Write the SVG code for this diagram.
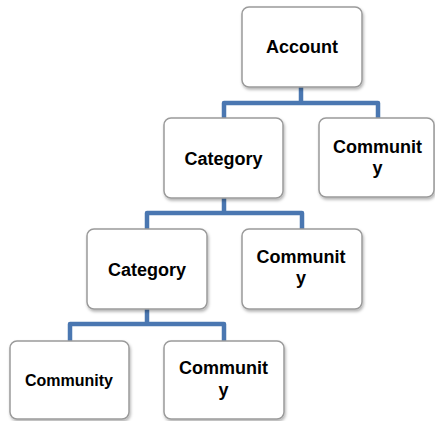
<svg xmlns="http://www.w3.org/2000/svg" width="435" height="421" viewBox="0 0 435 421">
<defs>
<filter id="sh" x="-10%" y="-10%" width="125%" height="130%">
<feDropShadow dx="1" dy="2" stdDeviation="1.5" flood-color="#000" flood-opacity="0.3"/>
</filter>
</defs>
<style>
.box{fill:#fff;stroke:#9a9a9a;stroke-width:1.5;filter:url(#sh)}
.t{font-family:"Liberation Sans",Arial,sans-serif;font-weight:bold;font-size:18px;fill:#000;text-anchor:middle}
.s{font-size:16px}
.c{fill:none;stroke:#4a77b1;stroke-width:4.5;stroke-linejoin:round}
</style>
<g id="connectors">
<path class="c" d="M301,87 V103 M224,118 V103 H378 V118"/>
<path class="c" d="M224,198 V213 M147,229 V213 H302 V229"/>
<path class="c" d="M147,309 V324 M70,341 V324 H224 V341"/>
</g>
<g id="account">
<rect class="box" x="242" y="7" width="120" height="80" rx="7"/>
<text class="t" x="302" y="53">Account</text>
</g>
<g id="category1">
<rect class="box" x="164" y="118" width="119" height="80" rx="7"/>
<text class="t" x="223.5" y="165">Category</text>
</g>
<g id="community1">
<rect class="box" x="319" y="118" width="115" height="79" rx="7"/>
<text class="t" x="377.5" y="153">Communit</text>
<text class="t" x="377.5" y="174">y</text>
</g>
<g id="category2">
<rect class="box" x="87" y="229" width="120" height="80" rx="7"/>
<text class="t" x="147" y="276">Category</text>
</g>
<g id="community2">
<rect class="box" x="242" y="229" width="120" height="80" rx="7"/>
<text class="t" x="301" y="263">Communit</text>
<text class="t" x="301" y="284">y</text>
</g>
<g id="community3">
<rect class="box" x="10" y="341" width="119" height="78" rx="7"/>
<text class="t s" x="69" y="386">Community</text>
</g>
<g id="community4">
<rect class="box" x="164" y="341" width="120" height="78" rx="7"/>
<text class="t" x="223.5" y="374">Communit</text>
<text class="t" x="223.5" y="396">y</text>
</g>
</svg>
